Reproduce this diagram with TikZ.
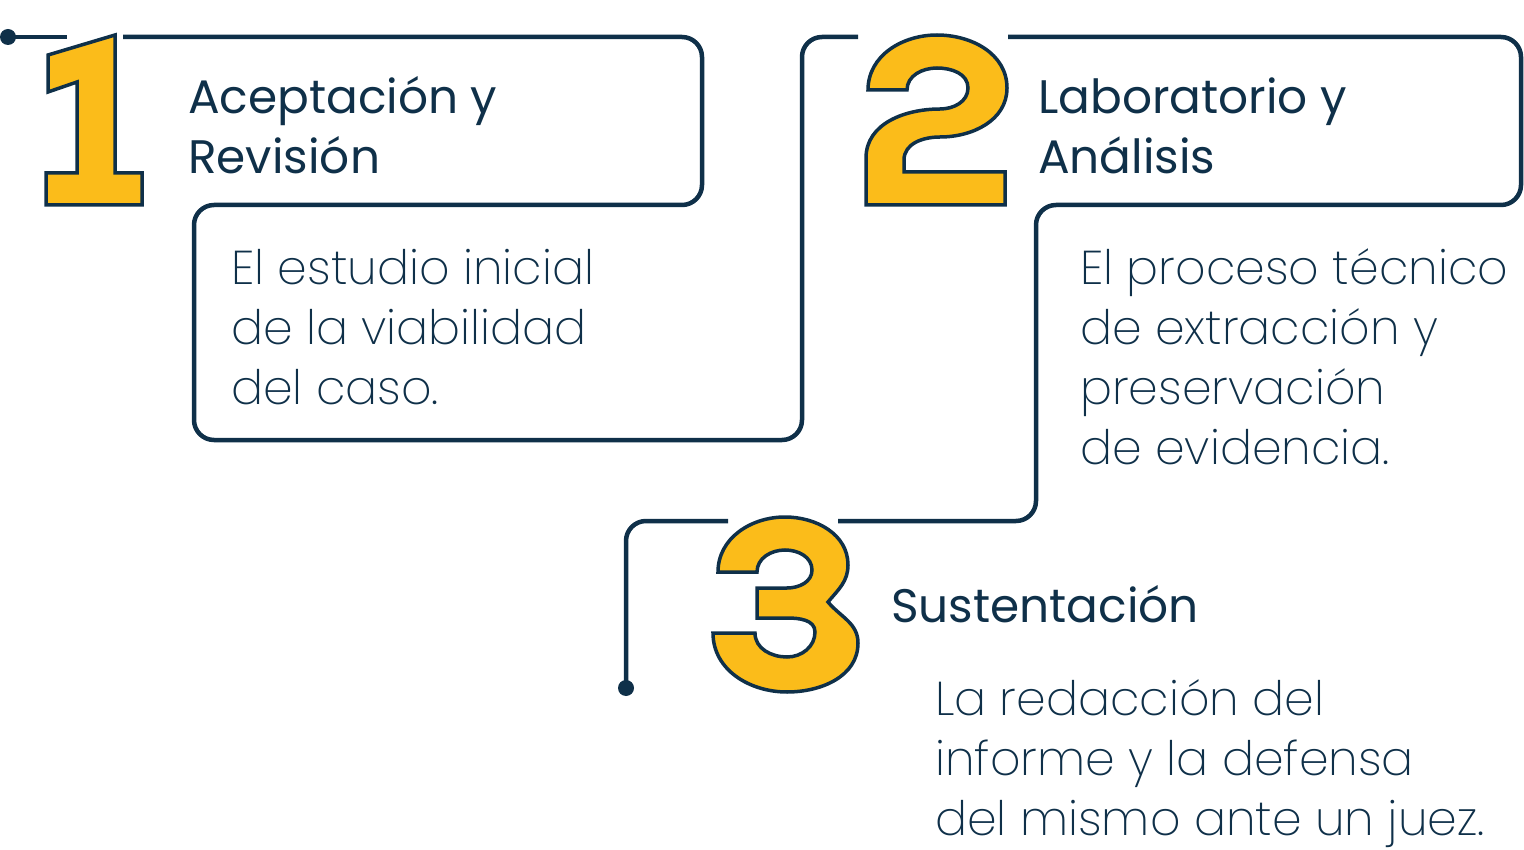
\documentclass[tikz,border=0pt]{standalone}
\usepackage{fontspec}
\newfontfamily\headfont{Poppins}
\newfontfamily\bodyfont{Poppins ExtraLight}
\definecolor{navy}{HTML}{0F3049}
\definecolor{gold}{HTML}{FBBC1A}
\newcommand\stk[1]{\vtop{\baselineskip=60pt\lineskiplimit=-100pt\halign{##\hfil\cr#1\crcr}}}
\tikzset{
  conn/.style={draw=navy, line width=4.5pt, rounded corners=20pt},
  dotend/.style={circle, fill=navy, inner sep=0pt, minimum size=16pt},
  digit/.style={fill=gold, draw=navy, line width=3.5pt, line join=miter},
  head/.style={anchor=base west, inner sep=0pt, text=navy, font=\headfont\fontsize{47}{60}\selectfont},
  body/.style={anchor=base west, inner sep=0pt, text=navy, font=\bodyfont\fontsize{47.5}{60}\selectfont},
}
\begin{document}
\begin{tikzpicture}[x=1pt,y=-1pt]
\useasboundingbox (0,0) rectangle (1524,850);
% dots
\node[dotend] (d1) at (8,37) {};
\node[dotend] (d2) at (626,688) {};
% connector coordinates
\coordinate (g1a) at (67,37);
\coordinate (g1b) at (123,37);
\coordinate (g2a) at (858,37);
\coordinate (g2b) at (1008,37);
\coordinate (g3a) at (838,521);
\coordinate (g3b) at (728,521);
\draw[conn] (d1.center) -- (g1a);
\draw[conn] (g1b) -- (702,37) -- (702,205) -- (194,205) -- (194,440) -- (802,440) -- (802,37) -- (g2a);
\draw[conn] (g2b) -- (1521,37) -- (1521,205) -- (1036,205) -- (1036,521) -- (g3a);
\draw[conn] (g3b) -- (626,521) -- (d2.center);
% digit 1
\draw[digit] (115,35) -- (48,55) -- (48,92) -- (77,82) -- (77,173) -- (46,173) -- (46,205)
  -- (142,205) -- (142,173) -- (115,173) -- cycle;
% digit 2
\draw[digit] (868,90) to[out=90,in=180] (937,35) to[out=0,in=90] (1007,88)
  to[out=-90,in=0] (940,137) to[out=180,in=90] (904,160) -- (904,172) -- (1005,172)
  -- (1005,205) -- (866,205) -- (866,158) to[out=90,in=180] (940,109)
  to[out=0,in=-90] (968,88) to[out=90,in=0] (937,68) to[out=180,in=90] (907,90) -- cycle;
% digit 3
\draw[digit] (718,572) to[out=90,in=180] (785,517) to[out=0,in=90] (848,565)
  to[out=-90,in=50] (828,602) to[out=-50,in=90] (858,643) to[out=-90,in=0] (787,692)
  to[out=180,in=-90] (713,633) -- (755,633) to[out=-90,in=180] (787,657)
  to[out=0,in=-90] (815,632) to[out=90,in=0] (787,618) -- (757,618) -- (757,588)
  -- (787,588) to[out=0,in=-90] (812,570) to[out=90,in=0] (785,550)
  to[out=180,in=90] (757,572) -- cycle;
% texts
\node[head] (h1) at (188,114) {\stk{Aceptación y\cr Revisión}};
\node[body] (b1) at (231,285) {\stk{El estudio inicial\cr de la viabilidad\cr del caso.}};
\node[head] (h2) at (1038,114) {\stk{Laboratorio y\cr Análisis}};
\node[body] (b2) at (1080,285) {\stk{El proceso técnico\cr de extracción y\cr preservación\cr de evidencia.}};
\node[head] (h3) at (891,622) {Sustentación};
\node[body] (b3) at (935,715) {\stk{La redacción del\cr informe y la defensa\cr del mismo ante un juez.}};
\end{tikzpicture}
\end{document}
